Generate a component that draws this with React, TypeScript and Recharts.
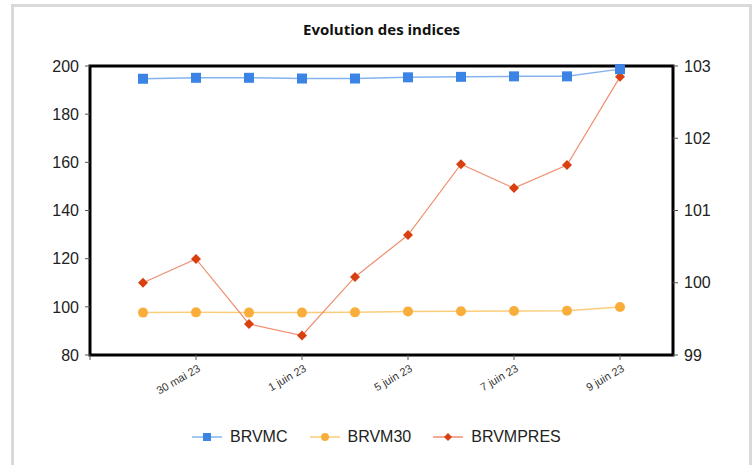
import React from 'react';
import { LineChart, Line, XAxis, YAxis, ReferenceArea } from 'recharts';

// trading days shown on the chart (x positions 1..10, axis runs 0..11)
const dates = [
  '29 mai 23',
  '30 mai 23',
  '31 mai 23',
  '1 juin 23',
  '2 juin 23',
  '5 juin 23',
  '6 juin 23',
  '7 juin 23',
  '8 juin 23',
  '9 juin 23',
];
const brvmc = [194.7, 195.1, 195.1, 194.8, 194.8, 195.3, 195.5, 195.7, 195.7, 198.7];
const brvm30 = [97.6, 97.7, 97.6, 97.6, 97.7, 98.1, 98.2, 98.3, 98.4, 99.9];
const brvmpres = [100.0, 100.33, 99.43, 99.27, 100.08, 100.66, 101.64, 101.31, 101.63, 102.85];

const xTicks = [0, 2, 4, 6, 8, 10];
const leftTicks = [80, 100, 120, 140, 160, 180, 200];
const rightTicks = [99, 100, 101, 102, 103];

const BLUE = '#3b84e6';
const BLUE_LINE = '#86b3ef';
const ORANGE = '#f9ae3c';
const ORANGE_LINE = '#fbcd7a';
const RED = '#d8400f';
const RED_LINE = '#ef8f70';

const data = dates.map((d, i) => ({
  x: i + 1,
  date: d,
  BRVMC: brvmc[i],
  BRVM30: brvm30[i],
  BRVMPRES: brvmpres[i],
}));

const font = '"Liberation Sans", Arial, sans-serif';

const SquareDot = (p: any) => {
  if (p.cx == null || p.cy == null) return <g key={p.index} />;
  return <rect key={p.index} x={p.cx - 5} y={p.cy - 5} width={10} height={10} fill={BLUE} />;
};

const CircleDot = (p: any) => {
  if (p.cx == null || p.cy == null) return <g key={p.index} />;
  return <circle key={p.index} cx={p.cx} cy={p.cy} r={5} fill={ORANGE} />;
};

const DiamondDot = (p: any) => {
  if (p.cx == null || p.cy == null) return <g key={p.index} />;
  const s = 5;
  return (
    <path
      key={p.index}
      d={`M${p.cx},${p.cy - s}L${p.cx + s},${p.cy}L${p.cx},${p.cy + s}L${p.cx - s},${p.cy}Z`}
      fill={RED}
    />
  );
};

const DateTick = (props: any) => {
  const { x, y, payload } = props;
  const label = dates[payload.value - 1] ?? '';
  return (
    <g transform={`translate(${x},${y})`}>
      <text
        x={0}
        y={0}
        dy={10}
        dx={0}
        textAnchor="end"
        transform="rotate(-30)"
        fontSize={11}
        fontFamily={font}
        fill="#333"
      >
        {label}
      </text>
    </g>
  );
};

const legendItems = [
  { name: 'BRVMC', line: BLUE_LINE, marker: 'square', color: BLUE },
  { name: 'BRVM30', line: ORANGE_LINE, marker: 'circle', color: ORANGE },
  { name: 'BRVMPRES', line: RED_LINE, marker: 'diamond', color: RED },
];

const LegendIcon = ({ item }: { item: (typeof legendItems)[number] }) => (
  <svg width={30} height={12} style={{ display: 'block' }}>
    <line x1={0} y1={6} x2={30} y2={6} stroke={item.line} strokeWidth={1.5} />
    {item.marker === 'square' && <rect x={11} y={2} width={8} height={8} fill={item.color} />}
    {item.marker === 'circle' && <circle cx={15} cy={6} r={4} fill={item.color} />}
    {item.marker === 'diamond' && <path d="M15,2L19,6L15,10L11,6Z" fill={item.color} />}
  </svg>
);

export default function App() {
  return (
    <div
      style={{
        position: 'absolute',
        left: 0,
        top: 0,
        width: 756,
        height: 465,
        background: '#fff',
        overflow: 'hidden',
        fontFamily: font,
      }}
    >
      <div
        style={{
          position: 'absolute',
          left: 11,
          top: 4,
          width: 735,
          height: 480,
          border: '3px solid #d9d9d9',
        }}
      />
      <div
        style={{
          position: 'absolute',
          left: 0,
          width: 763,
          top: 19,
          textAlign: 'center',
          fontFamily: '"Open Sans", sans-serif',
          fontWeight: 700,
          fontSize: 15,
          color: '#111',
        }}
      >
        Evolution des indices
      </div>
      <div style={{ position: 'absolute', left: 0, top: 0 }}>
        <LineChart
          width={756}
          height={465}
          data={data}
          margin={{ top: 66, right: 43, left: 40, bottom: 50 }}
        >
          <XAxis
            type="number"
            dataKey="x"
            domain={[0, 11]}
            ticks={xTicks}
            interval={0}
            height={60}
            axisLine={false}
            tickLine={{ stroke: '#555' }}
            tickSize={5}
            tick={<DateTick />}
          />
          <YAxis
            yAxisId="left"
            domain={[80, 200]}
            ticks={leftTicks}
            width={50}
            axisLine={false}
            tickLine={{ stroke: '#555' }}
            tickSize={5}
            tickMargin={6}
            tick={{ fontSize: 16, fill: '#222', fontFamily: font }}
          />
          <YAxis
            yAxisId="right"
            orientation="right"
            domain={[99, 103]}
            ticks={rightTicks}
            width={40}
            axisLine={false}
            tickLine={{ stroke: '#555' }}
            tickSize={5}
            tickMargin={6}
            tick={{ fontSize: 16, fill: '#222', fontFamily: font }}
          />
          <ReferenceArea
            yAxisId="left"
            x1={0}
            x2={11}
            y1={80}
            y2={200}
            fill="none"
            fillOpacity={0}
            stroke="#000"
            strokeWidth={3}
          />
          <Line
            yAxisId="left"
            dataKey="BRVM30"
            stroke={ORANGE_LINE}
            strokeWidth={1.5}
            dot={CircleDot}
            activeDot={false}
            isAnimationActive={false}
          />
          <Line
            yAxisId="right"
            dataKey="BRVMPRES"
            stroke={RED_LINE}
            strokeWidth={1.2}
            dot={DiamondDot}
            activeDot={false}
            isAnimationActive={false}
          />
          <Line
            yAxisId="left"
            dataKey="BRVMC"
            stroke={BLUE_LINE}
            strokeWidth={1.5}
            dot={SquareDot}
            activeDot={false}
            isAnimationActive={false}
          />
        </LineChart>
      </div>
      <div
        style={{
          position: 'absolute',
          left: 192,
          top: 428,
          display: 'flex',
          alignItems: 'center',
          fontSize: 16,
          color: '#222',
          whiteSpace: 'nowrap',
        }}
      >
        {legendItems.map((item, i) => (
          <div
            key={item.name}
            style={{ display: 'flex', alignItems: 'center', marginLeft: i === 0 ? 0 : 22 }}
          >
            <LegendIcon item={item} />
            <span style={{ marginLeft: 8 }}>{item.name}</span>
          </div>
        ))}
      </div>
    </div>
  );
}
